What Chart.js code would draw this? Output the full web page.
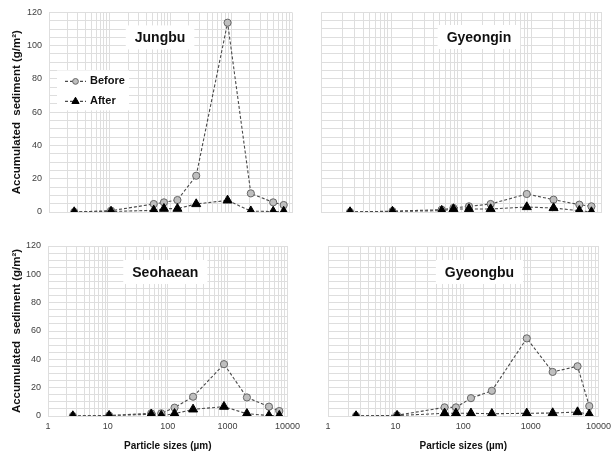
<!DOCTYPE html>
<html><head><meta charset="utf-8">
<script src="https://cdn.jsdelivr.net/npm/chart.js@4.4.1/dist/chart.umd.min.js"></script>
<style>
html,body{margin:0;padding:0;background:#fff;}
body{width:616px;height:455px;position:relative;overflow:hidden;}
canvas{position:absolute;}
</style></head>
<body>
<canvas id="c0"></canvas><canvas id="c1"></canvas><canvas id="c2"></canvas><canvas id="c3"></canvas>
<script>
// ---- data ----
const sizes = [2.6, 10.5, 53, 78, 130, 265, 870, 2100, 4900, 7300];
const seriesNames = ['Before', 'After'];
const regions = ['Jungbu', 'Gyeongin', 'Seohaean', 'Gyeongbu'];
const jungbuBefore   = [0, 0.8, 4.8, 5.8, 7.2, 21.8, 113.8, 11.2, 5.8, 4.2];
const jungbuAfter    = [0, 0.3, 1.0, 2.0, 2.0, 4.8, 7.0, 0.5, 0.3, 0.3];
const gyeonginBefore = [0, 0.5, 1.4, 2.4, 3.4, 4.8, 10.8, 7.4, 4.4, 3.4];
const gyeonginAfter  = [0, 0.3, 0.8, 1.8, 1.8, 1.8, 3.0, 2.4, 0.8, 0];
const seohaeanBefore = [0, 0.3, 1.9, 1.9, 5.9, 13.6, 36.6, 13.1, 6.6, 3.5];
const seohaeanAfter  = [0, 0.3, 1.2, 0.3, 1.6, 4.7, 6.6, 1.6, 0.3, 0.3];
const gyeongbuBefore = [0, 0.5, 6.1, 6.1, 12.6, 17.8, 54.8, 31.1, 35.1, 7.0];
const gyeongbuAfter  = [0, 0.3, 1.9, 1.9, 1.9, 1.6, 1.9, 2.1, 2.8, 1.2];
const xTickLabels = [1, 10, 100, 1000, 10000];
const yTickLabels = [0, 20, 40, 60, 80, 100, 120];
const yTitle = 'Accumulated  sediment (g/m\u00B2)';
const xTitle = 'Particle sizes (\u00B5m)';

const allBefore = [jungbuBefore, gyeonginBefore, seohaeanBefore, gyeongbuBefore];
const allAfter  = [jungbuAfter, gyeonginAfter, seohaeanAfter, gyeongbuAfter];

// ---- layout (styles/positions) ----
const FONT = "'Liberation Sans',Arial,sans-serif";
const panels = [
  {left:0,   top:0,   w:305, h:225, pl:49, pr:292, pt:12, pb:212, yLab:true,  xLab:false, fx:0.457, ly:25, legend:true},
  {left:308, top:0,   w:308, h:225, pl:13, pr:293, pt:12, pb:212, yLab:false, xLab:false, fx:0.564, ly:25, legend:false},
  {left:0,   top:225, w:305, h:230, pl:48, pr:291, pt:21, pb:191, yLab:true,  xLab:true,  fx:0.49,  ly:26, legend:false},
  {left:308, top:225, w:308, h:230, pl:20, pr:293, pt:21, pb:191, yLab:false, xLab:true,  fx:0.56,  ly:26, legend:false}
];

// log grid values 1..9 x 10^k
const logGrid = [];
for (let e = 0; e < 4; e++) for (let s = 1; s < 10; s++) logGrid.push(s * Math.pow(10, e));
logGrid.push(10000);

const GRID = '#dedede';
const beforeStyle = {order:2, pointStyle:'circle', pointRadius:3.6, pointBackgroundColor:'#bfbfbf', pointBorderColor:'#666', pointBorderWidth:1};
const afterStyle  = {order:1, pointStyle:'triangle', pointRadius:5.2, pointBackgroundColor:'#000', pointBorderColor:'#000', pointBorderWidth:1};
const lineStyle = {borderColor:'#4a4a4a', borderWidth:1.1, borderDash:[3,2], showLine:true, fill:false, tension:0};

const decor = {
  id:'decor',
  beforeDatasetsDraw(chart, args, opts) {
    const ctx = chart.ctx, a = chart.chartArea;
    ctx.save();
    ctx.font = "bold 14px " + FONT;
    const tw = ctx.measureText(opts.name).width;
    const cx = a.left + opts.fx * (a.right - a.left), cy = a.top + opts.ly;
    ctx.fillStyle = '#fff';
    ctx.fillRect(cx - tw/2 - 9, cy - 12, tw + 18, 24);
    ctx.fillStyle = '#111';
    ctx.textAlign = 'center'; ctx.textBaseline = 'middle';
    ctx.fillText(opts.name, cx, cy + 1);
    if (opts.legend) {
      const lx = a.left + 8, ly = a.top + 58;
      ctx.fillStyle = '#fff';
      ctx.fillRect(lx, ly, 72, 40);
      chart.data.datasets.forEach((d, i) => {
        const y = ly + 11 + i * 20;
        ctx.strokeStyle = d.borderColor; ctx.lineWidth = 1.1; ctx.setLineDash([3,2]);
        ctx.beginPath(); ctx.moveTo(lx + 8, y); ctx.lineTo(lx + 29, y); ctx.stroke();
        ctx.setLineDash([]);
        ctx.fillStyle = d.pointBackgroundColor; ctx.strokeStyle = d.pointBorderColor; ctx.lineWidth = 1;
        Chart.helpers.drawPoint(ctx, {pointStyle:d.pointStyle, radius:d.pointRadius*0.8, rotation:0, borderWidth:1}, lx + 18.5, y);
        ctx.fillStyle = '#111';
        ctx.font = "bold 11px " + FONT;
        ctx.textAlign = 'left'; ctx.textBaseline = 'middle';
        ctx.fillText(d.label, lx + 33, y);
      });
    }
    ctx.restore();
  }
};

panels.forEach((p, i) => {
  const cv = document.getElementById('c' + i);
  cv.width = p.w; cv.height = p.h;
  cv.style.left = p.left + 'px'; cv.style.top = p.top + 'px';
  cv.style.width = p.w + 'px'; cv.style.height = p.h + 'px';
  const padL = p.yLab ? 4 : 0;
  const padB = p.xLab ? 2 : 0;
  const datasets = [
    Object.assign({label: seriesNames[0], data: sizes.map((x, k) => ({x, y: allBefore[i][k]}))}, lineStyle, beforeStyle),
    Object.assign({label: seriesNames[1], data: sizes.map((x, k) => ({x, y: allAfter[i][k]}))}, lineStyle, afterStyle)
  ];
  new Chart(cv, {
    type: 'line',
    data: {datasets},
    plugins: [decor],
    options: {
      responsive: false, animation: false, devicePixelRatio: 1,
      layout: {padding: {left: padL, right: p.w - p.pr, top: p.pt, bottom: padB}},
      plugins: {legend: {display: false}, tooltip: {enabled: false},
        decor: {name: regions[i], fx: p.fx, ly: p.ly, legend: p.legend}},
      scales: {
        x: {
          type: 'logarithmic', min: 1, max: 10000,
          afterBuildTicks: s => { s.ticks = logGrid.map(v => ({value: v, major: xTickLabels.includes(v)})); },
          afterFit: s => { s.height = p.h - padB - p.pb; },
          grid: {color: GRID, lineWidth: 1, drawTicks: false},
          border: {color: GRID},
          ticks: {display: p.xLab, autoSkip: false, maxRotation: 0, padding: 5,
            color: '#404040', font: {family: FONT, size: 9},
            callback: v => xTickLabels.includes(v) ? String(v) : ''},
          title: {display: p.xLab, text: xTitle, color: '#111',
            font: {family: FONT, size: 10, weight: 'bold'}, padding: {top: 0, bottom: 1}}
        },
        y: {
          min: 0, max: 120,
          afterFit: s => { s.width = p.pl - padL; },
          grid: {color: GRID, lineWidth: 1, drawTicks: false},
          border: {color: GRID},
          ticks: {display: p.yLab, stepSize: 5, autoSkip: false, padding: 7,
            color: '#404040', font: {family: FONT, size: 9},
            callback: v => yTickLabels.includes(v) ? String(v) : ''},
          title: {display: p.yLab, text: yTitle, color: '#111',
            font: {family: FONT, size: 11.5, weight: 'bold'}, padding: {top: 6, bottom: 0}}
        }
      }
    }
  });
});
</script>
</body></html>
